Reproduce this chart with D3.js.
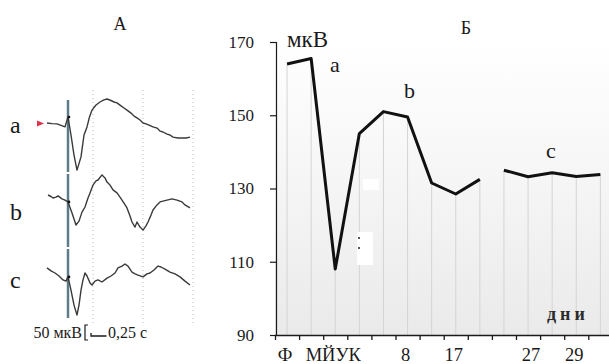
<!DOCTYPE html>
<html>
<head>
<meta charset="utf-8">
<script src="https://cdn.jsdelivr.net/npm/d3@7"></script>
<style>
  body { margin: 0; background: #fff; }
  svg { display: block; font-family: "Liberation Serif", "Times New Roman", serif; }
</style>
</head>
<body>
<svg id="chart" width="609" height="364"></svg>
<script>
// ---- panel Б data: amplitude (мкВ) per measurement point ----
const pointIds = [0, 1, 2, 3, 4, 5, 6, 7, 8, 9, 10, 11, 12, 13];
const tickLabels = ["Ф", "", "МЙУК", "", "", "8", "", "17", "", "", "27", "", "29", ""];
const amplitudeEarly = [164, 165.5, 108, 145, 151, 149.5, 131.5, 128.5, 132.5];
const amplitudeLate = [135, 133.2, 134.3, 133.3, 133.8];
const lateStart = 9;
const yTicks = [90, 110, 130, 150, 170];

// ---- panel A data: traces as [time s, мкВ] ----
const traceA = [[-0.42, 0], [-0.32, -2], [-0.22, -3], [-0.14, -8], [-0.06, -13], [0, 20], [0.06, -40],
  [0.12, -107], [0.18, -157], [0.26, -113], [0.32, -40], [0.38, -13], [0.43, 20], [0.48, 43],
  [0.56, 60], [0.64, 70], [0.72, 77], [0.78, 80], [0.86, 75], [0.92, 70], [0.98, 67], [1.06, 57],
  [1.12, 50], [1.18, 43], [1.26, 33], [1.32, 23], [1.38, 17], [1.44, 10], [1.5, 0], [1.56, -3],
  [1.62, -7], [1.7, -13], [1.78, -17], [1.84, -27], [1.9, -30], [1.98, -37], [2.04, -40],
  [2.1, -47], [2.2, -50], [2.28, -50], [2.36, -50], [2.44, -47]];
const traceB = [[-0.40, 10], [-0.34, 5], [-0.30, 0], [-0.24, 3], [-0.2, 7], [-0.12, -3], [-0.06, -7],
  [0, -13], [0.08, -50], [0.16, -90], [0.22, -77], [0.28, -47], [0.34, -30], [0.40, 0], [0.44, 17],
  [0.5, 43], [0.56, 57], [0.6, 60], [0.68, 77], [0.74, 67], [0.78, 53], [0.84, 43], [0.9, 27],
  [0.98, 17], [1.04, 3], [1.12, -17], [1.18, -33], [1.24, -60], [1.28, -80], [1.34, -97],
  [1.38, -80], [1.44, -97], [1.5, -107], [1.56, -93], [1.6, -80], [1.66, -57], [1.7, -40],
  [1.78, -23], [1.84, -13], [1.98, -7], [2.08, -3], [2.18, -7], [2.28, -13], [2.34, -23], [2.44, -33]];
const traceC = [[-0.42, 7], [-0.34, -3], [-0.26, -10], [-0.18, -20], [-0.1, -33], [-0.04, -37], [0, -23],
  [0.06, -67], [0.12, -117], [0.18, -150], [0.22, -117], [0.26, -67], [0.3, -33], [0.34, -10],
  [0.38, -20], [0.44, -43], [0.48, -50], [0.54, -37], [0.6, -33], [0.68, -40], [0.78, -27],
  [0.86, -20], [0.94, -10], [1.0, 7], [1.08, 13], [1.14, 20], [1.2, 13], [1.28, -7], [1.34, -13],
  [1.4, -17], [1.5, -23], [1.58, -13], [1.64, -10], [1.72, 0], [1.8, 13], [1.86, 10], [1.94, 3],
  [2.04, -7], [2.14, -13], [2.24, -23], [2.34, -37], [2.44, -50]];
const traceNames = ["a", "b", "c"];
const gridTimes = [0.5, 1.5, 2.5];

const svg = d3.select("#chart");
const ink = "#1a1a1a";

// ================= panel A =================
const tScale = d3.scaleLinear().domain([0, 1]).range([68, 118]);
const baselines = [123, 198, 270];
const ampScales = baselines.map(b => d3.scaleLinear().domain([0, 50]).range([b, b - 15]));

svg.append("text").attr("x", 120).attr("y", 30).attr("text-anchor", "middle")
  .attr("font-size", 18).attr("fill", ink).text("А");

// dotted time grid
svg.append("g").selectAll("line").data(gridTimes).enter().append("line")
  .attr("x1", d => tScale(d)).attr("x2", d => tScale(d))
  .attr("y1", 90).attr("y2", 325)
  .attr("stroke", "#b8b8b8").attr("stroke-width", 1).attr("stroke-dasharray", "1,3");

// stimulus marker (three pieces)
[[100, 172], [174, 247], [249, 318]].forEach(seg => {
  svg.append("line").attr("x1", tScale(0)).attr("x2", tScale(0))
    .attr("y1", seg[0]).attr("y2", seg[1])
    .attr("stroke", "#5d7c88").attr("stroke-width", 2.5);
});

[traceA, traceB, traceC].forEach((tr, k) => {
  const line = d3.line().x(d => tScale(d[0])).y(d => ampScales[k](d[1]));
  svg.append("path").attr("d", line(tr)).attr("fill", "none")
    .attr("stroke", "#3a3a3a").attr("stroke-width", 1.4).attr("stroke-linejoin", "round");
  svg.append("circle").attr("cx", tScale(0) + 1).attr("cy", ampScales[k](tr.find(d => d[0] === 0)[1]))
    .attr("r", 1.3).attr("fill", "#111");
  svg.append("text").attr("x", 10).attr("y", baselines[k] + 10 + (k === 1 ? 12 : 0) + (k === 2 ? 8 : 0))
    .attr("font-size", 24).attr("fill", ink).text(traceNames[k]);
});

// red start marker
svg.append("path").attr("d", "M37,120.5L44,123.5L37,126.5Z").attr("fill", "#e0304a");

// scale bar
svg.append("text").attr("x", 82).attr("y", 338).attr("text-anchor", "end")
  .attr("font-size", 16).attr("fill", ink).text("50 мкВ");
const ampBar = d3.scaleLinear().domain([0, 50]).range([340, 325]);
svg.append("path")
  .attr("d", `M88,${ampBar(50)}H85V${ampBar(0)}H88`)
  .attr("fill", "none").attr("stroke", ink).attr("stroke-width", 1.2);
const barX0 = 91;
svg.append("path")
  .attr("d", `M${barX0},333V336H${barX0 + tScale(0.25) - tScale(0) + 3}`)
  .attr("fill", "none").attr("stroke", ink).attr("stroke-width", 1.3);
svg.append("text").attr("x", 108).attr("y", 338)
  .attr("font-size", 16).attr("fill", ink).text("0,25 с");

// ================= panel Б =================
const x = d3.scaleLinear().domain([-0.5, 13.5]).range([275, 612.4]);
const y = d3.scaleLinear().domain([90, 170]).range([335, 42]);

const defs = svg.append("defs");
const grad = defs.append("linearGradient").attr("id", "bg").attr("x1", 0).attr("y1", 0).attr("x2", 0).attr("y2", 1);
grad.append("stop").attr("offset", "0%").attr("stop-color", "#ffffff");
grad.append("stop").attr("offset", "45%").attr("stop-color", "#f6f6f6");
grad.append("stop").attr("offset", "100%").attr("stop-color", "#eaeaea");
svg.append("rect").attr("x", x(-0.5)).attr("y", y(170)).attr("width", 609 - x(-0.5))
  .attr("height", y(90) - y(170)).attr("fill", "url(#bg)");

svg.append("text").attr("x", 466).attr("y", 34).attr("text-anchor", "middle")
  .attr("font-size", 18).attr("fill", ink).text("Б");

const early = amplitudeEarly.map((v, i) => ({ i: pointIds[i], v }));
const late = amplitudeLate.map((v, k) => ({ i: pointIds[lateStart + k], v }));
const allPts = early.concat(late);

// drop lines from each point to the axis
svg.append("g").selectAll("line").data(allPts).enter().append("line")
  .attr("x1", d => x(d.i)).attr("x2", d => x(d.i))
  .attr("y1", d => y(d.v)).attr("y2", y(90))
  .attr("stroke", "#d4d4d4").attr("stroke-width", 1);

// white patch and stray marks left in the figure
svg.append("rect").attr("x", 357).attr("y", 232).attr("width", 16).attr("height", 33).attr("fill", "#fff");
svg.append("rect").attr("x", 363).attr("y", 179).attr("width", 16).attr("height", 11).attr("fill", "#fff");
svg.append("circle").attr("cx", 359).attr("cy", 238).attr("r", 1).attr("fill", "#222");
svg.append("circle").attr("cx", 359).attr("cy", 248).attr("r", 1).attr("fill", "#222");

const ampLine = d3.line().x(d => x(d.i)).y(d => y(d.v));
[early, late].forEach(seg => {
  svg.append("path").attr("d", ampLine(seg)).attr("fill", "none")
    .attr("stroke", "#111").attr("stroke-width", 3).attr("stroke-linejoin", "round");
});

// axes
const yAxis = svg.append("g").attr("transform", `translate(${x(-0.5) + 1},0)`)
  .call(d3.axisLeft(y).tickValues(yTicks).tickSize(6).tickPadding(16).tickFormat(d3.format("d")));
yAxis.selectAll("text").attr("font-size", 17).attr("font-family", "Liberation Serif").attr("fill", ink);
yAxis.selectAll("line, path").attr("stroke", ink).attr("stroke-width", 1.2);

const xTicksG = svg.append("g").attr("transform", `translate(0,${y(90)})`)
  .call(d3.axisBottom(x).tickValues(pointIds.map(i => i - 0.5)).tickSize(5).tickSizeOuter(0).tickFormat(""));
xTicksG.select(".domain").attr("d", `M${x(-0.5)},0.5H609`);
xTicksG.selectAll("line, path").attr("stroke", ink).attr("stroke-width", 1.3);

svg.append("g").selectAll("text").data(pointIds.filter(i => tickLabels[i] !== "")).enter().append("text")
  .attr("x", d => x(d) - (d === 10 ? -3 : 2)).attr("y", 361).attr("text-anchor", "middle")
  .attr("font-size", 18.5).attr("fill", ink).text(d => tickLabels[d]);

// annotations
svg.append("text").attr("x", 287).attr("y", 47).attr("font-size", 23).attr("fill", ink).text("мкВ");
svg.append("text").attr("x", 330).attr("y", 72).attr("font-size", 22).attr("fill", ink).text("a");
svg.append("text").attr("x", 404).attr("y", 98).attr("font-size", 22).attr("fill", ink).text("b");
svg.append("text").attr("x", 546).attr("y", 158).attr("font-size", 22).attr("fill", ink).text("c");
svg.append("text").attr("x", 547).attr("y", 320).attr("font-size", 18).attr("font-weight", "bold")
  .attr("letter-spacing", 4).attr("fill", "#2a2a2a").text("дни");
</script>
</body>
</html>
